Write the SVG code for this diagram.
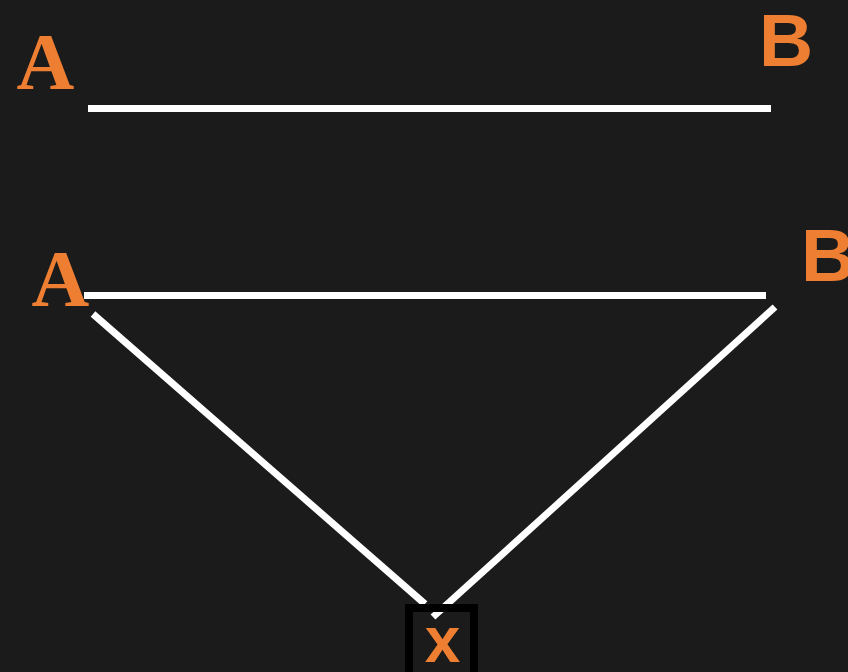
<svg xmlns="http://www.w3.org/2000/svg" width="848" height="672" viewBox="0 0 848 672">
<style>
.bg{fill:#1b1b1b}
.ln{stroke:#ffffff;stroke-width:7;fill:none}
.serif{font-family:"Liberation Serif","DejaVu Serif",serif;font-weight:bold;font-size:80px;fill:#ee7f32}
.sans{font-family:"Liberation Sans",Arial,sans-serif;font-weight:bold;font-size:75px;fill:#ee7f32}
.box{fill:none;stroke:#000000;stroke-width:8}
</style>
<rect class="bg" x="0" y="0" width="848" height="672"/>
<g id="connectors">
<line class="ln" x1="88" y1="108.5" x2="771" y2="108.5"/>
<line class="ln" x1="84" y1="295.5" x2="766" y2="295.5"/>
<line class="ln" x1="93" y1="314" x2="425" y2="604"/>
<line class="ln" x1="775" y1="307" x2="433" y2="617"/>
</g>
<g id="A1"><text class="serif" x="45.5" y="89" text-anchor="middle">A</text></g>
<g id="B1"><text class="sans" x="759" y="66">B</text></g>
<g id="A2"><text class="serif" x="60.5" y="306" text-anchor="middle">A</text></g>
<g id="B2"><text class="sans" x="801" y="281">B</text></g>
<g id="X">
<rect class="box" x="409" y="608" width="65" height="72"/>
<text class="sans" style="font-size:64px" x="442.5" y="662" text-anchor="middle">x</text>
</g>
</svg>
